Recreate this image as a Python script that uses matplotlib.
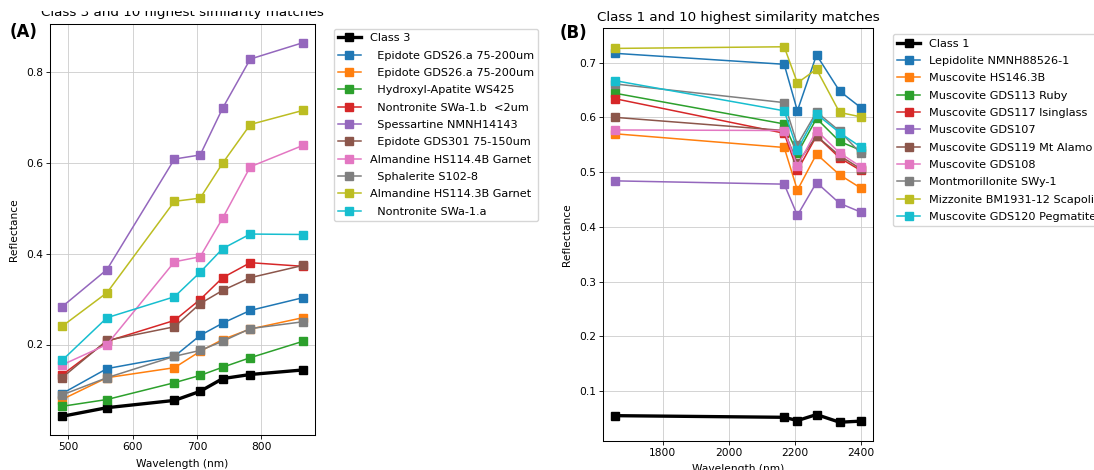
import matplotlib
matplotlib.use("Agg")
import matplotlib.pyplot as plt
from matplotlib.transforms import Bbox, TransformedBbox

# ---------------- Data: panel A (Class 3) ----------------
x_a = [490, 560, 665, 705, 740, 783, 865]
class3 = [0.042, 0.061, 0.077, 0.097, 0.125, 0.134, 0.144]
epidote26a_1 = [0.092, 0.147, 0.174, 0.220, 0.247, 0.275, 0.303]
epidote26a_2 = [0.079, 0.127, 0.149, 0.185, 0.211, 0.234, 0.259]
hydroxyl_apatite = [0.064, 0.079, 0.116, 0.132, 0.150, 0.171, 0.207]
nontronite_b = [0.133, 0.207, 0.253, 0.299, 0.347, 0.380, 0.372]
spessartine = [0.283, 0.365, 0.608, 0.617, 0.720, 0.828, 0.864]
epidote301 = [0.127, 0.209, 0.239, 0.290, 0.319, 0.347, 0.374]
almandine_4b = [0.155, 0.200, 0.382, 0.393, 0.478, 0.591, 0.638]
sphalerite = [0.089, 0.127, 0.174, 0.187, 0.207, 0.235, 0.250]
almandine_3b = [0.240, 0.314, 0.515, 0.522, 0.599, 0.684, 0.715]
nontronite_a = [0.165, 0.259, 0.305, 0.359, 0.411, 0.443, 0.442]

labels_a = ["Class 3",
            "  Epidote GDS26.a 75-200um",
            "  Epidote GDS26.a 75-200um",
            "  Hydroxyl-Apatite WS425",
            "  Nontronite SWa-1.b  <2um",
            "  Spessartine NMNH14143",
            "  Epidote GDS301 75-150um",
            "Almandine HS114.4B Garnet",
            "  Sphalerite S102-8",
            "Almandine HS114.3B Garnet",
            "  Nontronite SWa-1.a"]
series_a = [epidote26a_1, epidote26a_2, hydroxyl_apatite, nontronite_b,
            spessartine, epidote301, almandine_4b, sphalerite,
            almandine_3b, nontronite_a]

# ---------------- Data: panel B (Class 1) ----------------
x_b = [1656, 2168, 2208, 2266, 2336, 2400]
class1 = [0.055, 0.052, 0.046, 0.057, 0.043, 0.045]
lepidolite = [0.717, 0.697, 0.612, 0.714, 0.648, 0.618]
musc_hs146 = [0.570, 0.545, 0.467, 0.533, 0.495, 0.471]
musc_gds113 = [0.644, 0.588, 0.534, 0.598, 0.556, 0.540]
musc_gds117 = [0.634, 0.571, 0.503, 0.566, 0.526, 0.503]
musc_gds107 = [0.484, 0.478, 0.421, 0.481, 0.443, 0.427]
musc_gds119 = [0.600, 0.576, 0.516, 0.566, 0.530, 0.506]
musc_gds108 = [0.577, 0.576, 0.511, 0.576, 0.535, 0.510]
montmorillonite = [0.661, 0.627, 0.550, 0.610, 0.575, 0.534]
mizzonite = [0.726, 0.729, 0.663, 0.688, 0.609, 0.601]
musc_gds120 = [0.667, 0.612, 0.541, 0.606, 0.572, 0.546]

labels_b = ["Class 1",
            "Lepidolite NMNH88526-1",
            "Muscovite HS146.3B",
            "Muscovite GDS113 Ruby",
            "Muscovite GDS117 Isinglass",
            "Muscovite GDS107",
            "Muscovite GDS119 Mt Alamo",
            "Muscovite GDS108",
            "Montmorillonite SWy-1",
            "Mizzonite BM1931-12 Scapolite",
            "Muscovite GDS120 Pegmatite"]
series_b = [lepidolite, musc_hs146, musc_gds113, musc_gds117, musc_gds107,
            musc_gds119, musc_gds108, montmorillonite, mizzonite, musc_gds120]

titles = ["Class 3 and 10 highest similarity matches",
          "Class 1 and 10 highest similarity matches"]
xticks_a = [500, 600, 700, 800]
yticks_a = [0.2, 0.4, 0.6, 0.8]
xticks_b = [1800, 2000, 2200, 2400]
yticks_b = [0.1, 0.2, 0.3, 0.4, 0.5, 0.6, 0.7]

# ---------------- Style ----------------
plt.rcParams.update({
    "font.family": ["DejaVu Sans"],
    "font.size": 7.7,
    "axes.linewidth": 0.75,
    "xtick.major.size": 2.6,
    "ytick.major.size": 2.6,
    "xtick.major.width": 0.6,
    "ytick.major.width": 0.6,
    "xtick.major.pad": 2.6,
    "ytick.major.pad": 2.6,
    "grid.linewidth": 0.6,
    "legend.fontsize": 8.1,
})

W, H = 1094, 470
fig = plt.figure(figsize=(W / 100, H / 100), dpi=100)

def px_axes(l, t, r, b):
    return [l / W, (H - b) / H, (r - l) / W, (b - t) / H]

ax_a = fig.add_axes(px_axes(50, 24, 315, 435))
ax_b = fig.add_axes(px_axes(603, 28, 873, 441))

colors = ["C%d" % i for i in range(10)]

def draw(ax, x, cls, series, labels):
    ax.plot(x, cls, color="black", marker="s", lw=2.4, ms=5.3, label=labels[0])
    for s, c, lab in zip(series, colors, labels[1:]):
        ax.plot(x, s, color=c, marker="s", lw=1.1, ms=5.1, label=lab)
    ax.grid(True, color="#cccccc")
    ax.set_axisbelow(True)
    ax.set_ylabel("Reflectance", labelpad=5)

draw(ax_a, x_a, class3, series_a, labels_a)
draw(ax_b, x_b, class1, series_b, labels_b)
ax_a.set_xlabel("Wavelength (nm)", labelpad=5)
ax_b.set_xlabel("Wavelength (nm)", labelpad=4)

ax_a.set_xticks(xticks_a)
ax_a.set_yticks(yticks_a)
ax_b.set_xticks(xticks_b)
ax_b.set_yticks(yticks_b)

t_a = ax_a.set_title(titles[0], fontsize=9.7, pad=6)
clip = TransformedBbox(Bbox([[0, 0], [1, (H - 10.5) / H]]), fig.transFigure)
t_a.set_clip_box(clip)
t_a.set_clip_on(True)
ax_b.set_title(titles[1], fontsize=9.7, pad=5.3)

ax_a.legend(loc="upper left", bbox_to_anchor=(1.07, 0.988), borderaxespad=0,
            handlelength=2.0, labelspacing=0.65)
ax_b.legend(loc="upper left", bbox_to_anchor=(1.074, 0.985), borderaxespad=0,
            handlelength=2.0, labelspacing=0.65)

fig.text(10 / W, 1 - 32 / H, "(A)", fontsize=12, fontweight="bold", va="center")
fig.text(560 / W, 1 - 33 / H, "(B)", fontsize=12, fontweight="bold", va="center")

fig.savefig("out.png", dpi=100)
